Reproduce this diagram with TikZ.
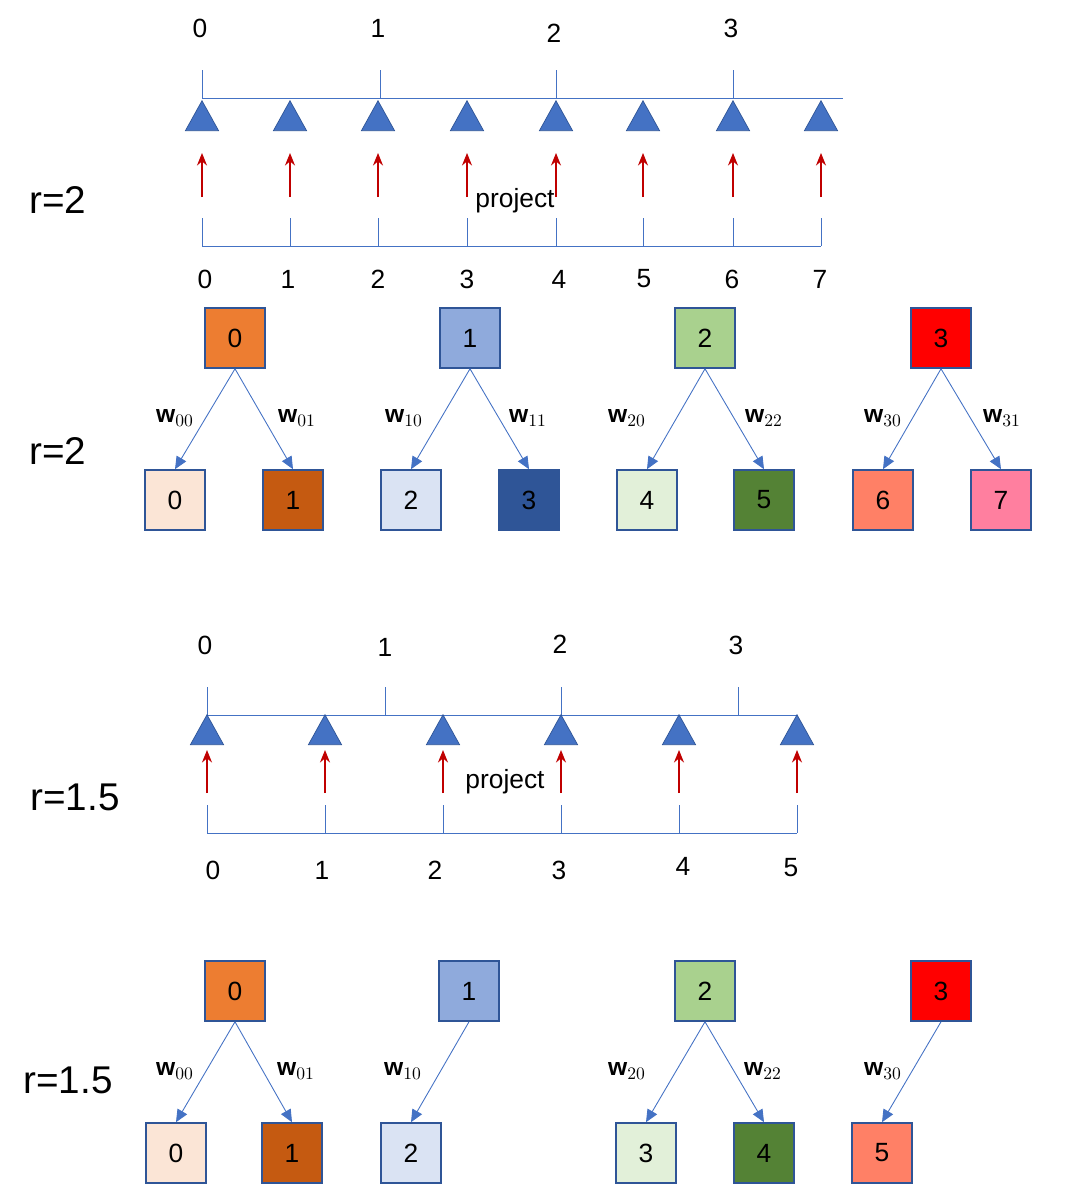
\documentclass[tikz,border=0pt]{standalone}
\usepackage{fontspec}
\setmainfont{Liberation Sans}
\usetikzlibrary{shapes.geometric,arrows.meta,positioning}
\definecolor{lineBlue}{HTML}{4472C4}
\definecolor{edgeBlue}{HTML}{2F5597}
\definecolor{arrowRed}{HTML}{C00000}
\tikzset{
  >={Stealth[length=2.5mm,width=2mm]},
  tri/.style={isosceles triangle,isosceles triangle apex angle=58,shape border rotate=90,draw=edgeBlue,fill=lineBlue,minimum height=0.6cm,inner sep=0pt,anchor=apex},
  cell/.style={draw=edgeBlue,line width=0.9pt,minimum size=1.2cm,inner sep=0pt,font=\fontsize{15}{15}\selectfont},
  tick/.style={font=\fontsize{15}{15}\selectfont},
  rlabel/.style={font=\fontsize{22}{22}\selectfont},
  wlabel/.style={font=\fontsize{14}{14}\selectfont},
  proj/.style={->,arrowRed,line width=0.6pt},
  tree/.style={->,draw=lineBlue,line width=0.5pt,>={Triangle[length=2.5mm,width=2.2mm]}},
}
\newcommand{\wl}[1]{{\rmfamily\bfseries w}$_{#1}$}
\begin{document}
\begin{tikzpicture}[x=0.02cm,y=-0.02cm]
\useasboundingbox (0,0) rectangle (1082,1191);

% ===== r=2 projection =====
\draw[lineBlue] (202,98) -- (843,98);
\foreach [count=\i from 0] \x/\ly in {202/28,380/28,556/33,733/28} {
  \node[tick] (top\i) at (\x-2,\ly) {\i};
  \draw[lineBlue] (\x,70) -- (\x,98);
}
\draw[lineBlue] (202,246) -- (821,246);
\foreach [count=\i from 0] \x/\lx in {202/205,290/288,378/378,467/467,556/559,643/644,733/732,821/820} {
  \node[tri] (ta\i) at (\x,100) {};
  \coordinate (pa\i) at (\x,197);
  \draw[proj] (pa\i) -- (\x,153);
  \draw[lineBlue] (\x,218) -- (\x,246);
  \node[tick] (bot\i) at (\lx,279) {\i};
}
\node[tick] (projA) at (515,201) {project};
\node[rlabel] (rA) at (58,200) {r=2};

% ===== r=2 tree =====
\node[rlabel] (rB) at (58,451) {r=2};
\foreach \i/\x/\c in {0/235/ED7D31,1/470/8FAADC,2/705/A9D18E,3/941/FF0000} {
  \definecolor{cellFill}{HTML}{\c}
  \node[cell,fill=cellFill] (pb\i) at (\x,338) {\i};
}
\foreach \i/\x/\c in {0/175/FBE5D6,1/293/C55A11,2/411/DAE3F3,3/529/2F5597,4/647/E2F0D9,5/764/548235,6/883/FF8066,7/1001/FF7F9F} {
  \definecolor{cellFill}{HTML}{\c}
  \node[cell,fill=cellFill] (cb\i) at (\x,500) {\i};
}
\foreach \p/\c/\w/\wx in {0/0/00/175,0/1/01/297,1/2/10/404,1/3/11/528,2/4/20/627,2/5/22/764,3/6/30/883,3/7/31/1002} {
  \draw[tree] (pb\p.south) -- (cb\c.north);
  \node[wlabel] (wb\w) at (\wx,418) {\wl{\w}};
}

% ===== r=1.5 projection =====
\draw[lineBlue] (207,715) -- (797,715);
\foreach [count=\i from 0] \x/\lx/\ly in {207/205/645,385/385/647,561/560/644,738/736/645} {
  \node[tick] (topc\i) at (\lx,\ly) {\i};
  \draw[lineBlue] (\x,687) -- (\x,715);
}
\draw[lineBlue] (207,833) -- (797,833);
\foreach [count=\i from 0] \x/\lx/\ly in {207/213/870,325/322/870,443/435/870,561/559/870,679/683/866,797/791/868} {
  \node[tri] (tc\i) at (\x,714) {};
  \coordinate (pc\i) at (\x,793);
  \draw[proj] (pc\i) -- (\x,750);
  \draw[lineBlue] (\x,805) -- (\x,833);
  \node[tick] (botc\i) at (\lx,\ly) {\i};
}
\node[tick] (projC) at (505,782) {project};
\node[rlabel] (rC) at (75,797) {r=1.5};

% ===== r=1.5 tree =====
\node[rlabel] (rD) at (68,1080) {r=1.5};
\foreach \i/\x/\c in {0/235/ED7D31,1/469/8FAADC,2/705/A9D18E,3/941/FF0000} {
  \definecolor{cellFill}{HTML}{\c}
  \node[cell,fill=cellFill] (pd\i) at (\x,991) {\i};
}
\foreach \i/\x/\c in {0/176/FBE5D6,1/292/C55A11,2/411/DAE3F3,3/646/E2F0D9,4/764/548235,5/882/FF8066} {
  \definecolor{cellFill}{HTML}{\c}
  \node[cell,fill=cellFill] (cd\i) at (\x,1153) {\i};
}
\foreach \p/\c/\w/\wx in {0/0/00/175,0/1/01/296,1/2/10/403,2/3/20/627,2/4/22/763,3/5/30/883} {
  \draw[tree] (pd\p.south) -- (cd\c.north);
  \node[wlabel] (wd\w) at (\wx,1071) {\wl{\w}};
}
\end{tikzpicture}
\end{document}
